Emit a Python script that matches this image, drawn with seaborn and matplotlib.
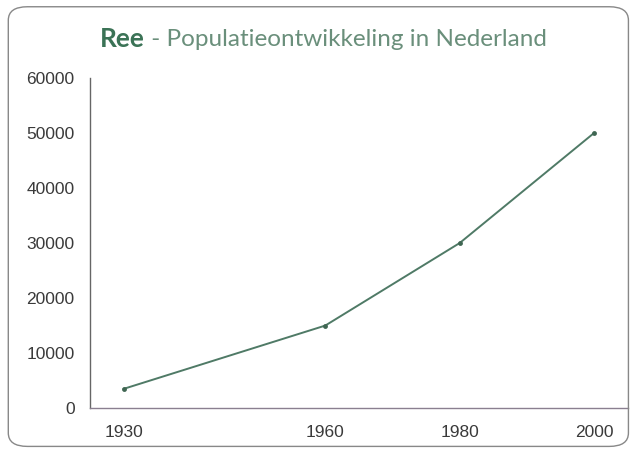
import matplotlib
matplotlib.use("Agg")
import matplotlib.pyplot as plt
from matplotlib.patches import FancyBboxPatch
import seaborn as sns
import pandas as pd

years = [1930, 1960, 1980, 2000]
population = [3500, 15000, 30000, 50000]
y_ticks = [0, 10000, 20000, 30000, 40000, 50000, 60000]

sns.set_style("white")
plt.rcParams['font.family'] = ['Liberation Sans', 'DejaVu Sans']

df = pd.DataFrame({'jaar': years, 'aantal': population})

fig = plt.figure(figsize=(6.38, 4.5), dpi=100)
ax = fig.add_axes([0.141, 0.093, 0.843, 0.734])

sns.lineplot(data=df, x='jaar', y='aantal', ax=ax, color='#4f7a66', linewidth=1.4,
             marker='o', markersize=3.5, markeredgewidth=0, markerfacecolor='#3f6652')

ax.set_xlim(1925, 2005)
ax.set_ylim(0, 60000)
ax.set_xticks(years)
ax.set_yticks(y_ticks)
ax.set_xlabel('')
ax.set_ylabel('')
ax.tick_params(axis='both', length=0, labelsize=12.5, colors='#3a3a3a')
ax.tick_params(axis='x', pad=12)
ax.tick_params(axis='y', pad=11)
for s in ['top', 'right']:
    ax.spines[s].set_visible(False)
ax.spines['left'].set_color('#666666')
ax.spines['left'].set_linewidth(1.0)
ax.spines['bottom'].set_color('#8a7f90')
ax.spines['bottom'].set_linewidth(1.0)

# title: bold "Ree" followed by lighter text
t1 = fig.text(0.157, 0.913, 'Ree', fontsize=19, fontweight='bold', color='#3b7356',
              family=['Lato', 'DejaVu Sans'], va='center', ha='left')
ax.annotate(' - Populatieontwikkeling in Nederland', xy=(1, 0.5), xycoords=t1,
            va='center', ha='left', fontsize=17.5, color='#6a8f7b',
            family=['Lato', 'DejaVu Sans'], annotation_clip=False)

# rounded frame around the figure
frame = FancyBboxPatch((0.013, 0.008), 0.972, 0.977, boxstyle='round,pad=0,rounding_size=0.03',
                       transform=fig.transFigure, fill=False, edgecolor='#888888',
                       linewidth=1.0, zorder=0)
fig.patches.append(frame)

fig.savefig('out.png', dpi=100)
